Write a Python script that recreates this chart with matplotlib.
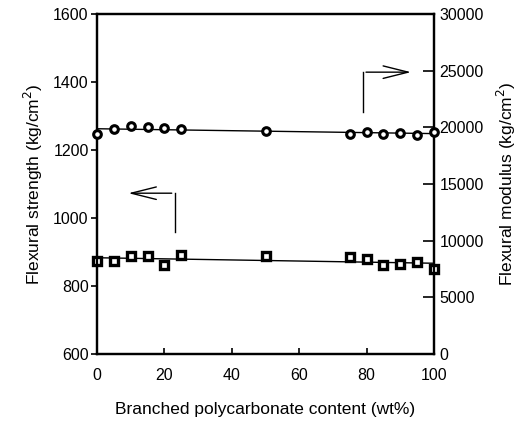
import numpy as np
import matplotlib
matplotlib.use("Agg")
import matplotlib.pyplot as plt

plt.rcParams['font.family'] = ['Liberation Sans', 'DejaVu Sans']

# branched polycarbonate content (wt%)
content = [0, 5, 10, 15, 20, 25, 50, 75, 80, 85, 90, 95, 100]
# flexural strength, kg/cm2 (squares, left axis)
strength = [874, 874, 888, 887, 863, 891, 888, 886, 879, 862, 865, 870, 849]
# flexural modulus, kg/cm2 (circles, right axis)
modulus = [19385, 19850, 20090, 20000, 19915, 19825, 19700, 19410, 19560, 19410, 19530, 19320, 19620]

x_ticks = [0, 20, 40, 60, 80, 100]
left_ticks = [600, 800, 1000, 1200, 1400, 1600]
right_ticks = [0, 5000, 10000, 15000, 20000, 25000, 30000]

fig = plt.figure(figsize=(5.29, 4.30), dpi=100)
ax = fig.add_axes([0.1834, 0.1767, 0.637, 0.7907])
ax2 = ax.twinx()

xs = np.array(content)

# fitted lines through each series
p1 = np.polyfit(xs, strength, 1)
ax.plot(xs, np.polyval(p1, xs), color='black', lw=1.0, zorder=2)
ax.plot(content, strength, ls='none', marker='s', ms=5.5, mfc='white',
        mec='black', mew=2.4, zorder=3, clip_on=False)

p2 = np.polyfit(xs, modulus, 1)
ax2.plot(xs, np.polyval(p2, xs), color='black', lw=1.0, zorder=2)
ax2.plot(content, modulus, ls='none', marker='o', ms=5.5, mfc='white',
         mec='black', mew=2.2, zorder=3, clip_on=False)

ax.set_xlim(0, 100)
ax.set_ylim(600, 1600)
ax2.set_ylim(0, 30000)
ax.set_xticks(x_ticks)
ax.set_yticks(left_ticks)
ax2.set_yticks(right_ticks)

ax.tick_params(axis='y', direction='out', length=4, width=1.2, labelsize=11.5, pad=2)
ax.tick_params(axis='x', direction='in', length=4, width=1.2, labelsize=11.5, pad=10)
ax2.tick_params(axis='y', direction='in', length=8, width=1.2, labelsize=11.5, pad=4)

for a in (ax, ax2):
    for s in a.spines.values():
        s.set_linewidth(1.6)

ax.set_xlabel('Branched polycarbonate content (wt%)', fontsize=12.5, labelpad=14)
ax.set_ylabel('Flexural strength (kg/cm$^2$)', fontsize=12.5, labelpad=6)
ax2.set_ylabel('Flexural modulus (kg/cm$^2$)', fontsize=12.5, labelpad=8)

# bent arrows pointing to the axis of each series
arrow = dict(arrowstyle='->,head_length=1.8,head_width=0.45', color='black', lw=1.0)
ax.plot([79, 79], [1312, 1429], color='black', lw=1.0)
ax.annotate('', xy=(94, 1429), xytext=(79, 1429), arrowprops=arrow)
ax.plot([23, 23], [959, 1073], color='black', lw=1.0)
ax.annotate('', xy=(8.5, 1073), xytext=(23, 1073), arrowprops=arrow)

fig.savefig('out.png', dpi=100)
